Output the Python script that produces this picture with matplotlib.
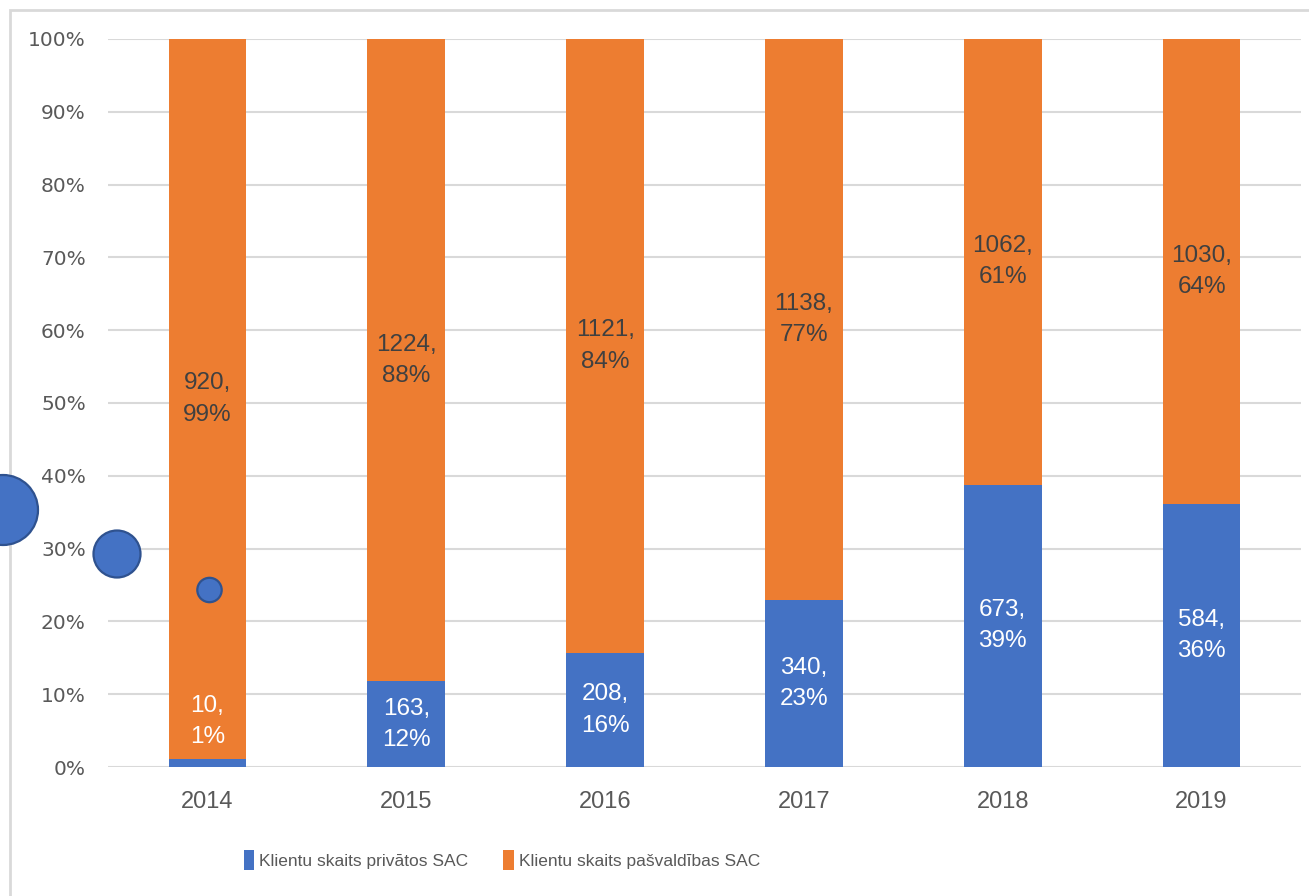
import matplotlib.pyplot as plt
from matplotlib.patches import Circle, Rectangle

years = ["2014", "2015", "2016", "2017", "2018", "2019"]
private_counts = [10, 163, 208, 340, 673, 584]
municipal_counts = [920, 1224, 1121, 1138, 1062, 1030]
series_names = ["Klientu skaits privātos SAC", "Klientu skaits pašvaldības SAC"]

BLUE = "#4472C4"
ORANGE = "#ED7D31"
GRID = "#D9D9D9"
TEXT = "#595959"

totals = [p + m for p, m in zip(private_counts, municipal_counts)]
priv_pct = [100 * p / t for p, t in zip(private_counts, totals)]
mun_pct = [100 * m / t for m, t in zip(municipal_counts, totals)]

fig = plt.figure(figsize=(13.09, 8.96), dpi=100)
ax = fig.add_axes([108 / 1309, 1 - 767 / 896, (1301 - 108) / 1309, (767 - 39) / 896])

x = list(range(len(years)))
width = 0.39
ax.bar(x, priv_pct, width, color=BLUE, label=series_names[0], zorder=3)
ax.bar(x, mun_pct, width, bottom=priv_pct, color=ORANGE, label=series_names[1], zorder=3)

lab_font = dict(family=["Liberation Sans", "DejaVu Sans"], fontsize=17.5,
                ha="center", va="center", linespacing=1.55, zorder=5)
for i in x:
    pp = priv_pct[i]
    mp = mun_pct[i]
    # tiny segment: label sits just above it, as in the source chart
    ypos = pp / 2 if pp > 5 else pp + 5.2
    ax.text(i, ypos, f"{private_counts[i]},\n{round(pp)}%", color="white", **lab_font)
    ax.text(i, pp + mp / 2, f"{municipal_counts[i]},\n{round(mp)}%", color="#404040", **lab_font)

ax.set_xlim(-0.5, len(years) - 0.5)
ax.set_ylim(0, 100)
ax.set_yticks(range(0, 101, 10))
ax.set_yticklabels([f"{v}%" for v in range(0, 101, 10)], fontsize=14.5,
                   color=TEXT, family="DejaVu Sans")
ax.set_xticks(x)
ax.set_xticklabels(years, fontsize=17, color=TEXT, family=["Liberation Sans", "DejaVu Sans"])
ax.tick_params(axis="y", length=0, pad=16)
ax.tick_params(axis="x", length=0, pad=17)
ax.yaxis.grid(True, color=GRID, linewidth=1.5, zorder=0)
ax.set_axisbelow(True)
for s in ax.spines.values():
    s.set_visible(False)

leg = fig.legend(loc="center", bbox_to_anchor=(502 / 1309, 1 - 860 / 896), ncol=2,
                 frameon=False, handlelength=0.6, handleheight=1.4, handletextpad=0.3,
                 columnspacing=2.0,
                 prop={"family": ["Liberation Sans", "DejaVu Sans"], "size": 12.5})
for t in leg.get_texts():
    t.set_color(TEXT)

# chart border
fig.patches.append(Rectangle((10 / 1309, -0.1), 1.2, 1 - 10 / 896 + 0.1, transform=fig.transFigure,
                             fill=False, edgecolor=GRID, linewidth=2, zorder=0))

# stray circle shapes on the left
for cx, cy, r in [(3, 510, 35), (117, 554, 23.5), (209.5, 590, 12.2)]:
    fig.patches.append(Circle((cx, 896 - cy), r, transform=None, facecolor=BLUE,
                              edgecolor="#2F528F", linewidth=1.6, zorder=10))

fig.savefig("out.png", dpi=100)
